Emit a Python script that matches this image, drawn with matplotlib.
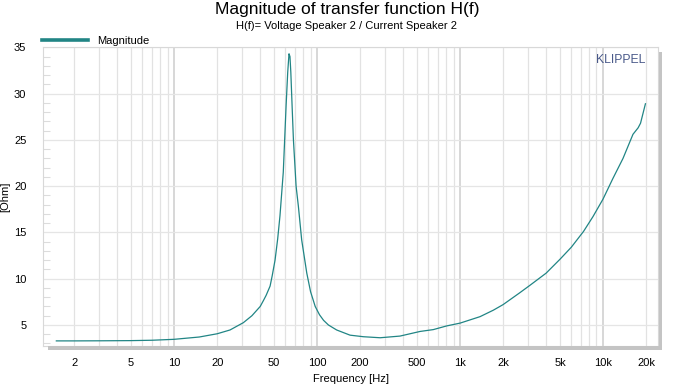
import matplotlib
matplotlib.use('Agg')
import matplotlib.pyplot as plt
from matplotlib.patches import Rectangle
from matplotlib.ticker import FixedLocator, NullFormatter, MultipleLocator
import numpy as np

plt.rcParams['font.family'] = ['Liberation Sans', 'DejaVu Sans']

# impedance curve
freq = [1.5, 2, 3, 5, 7, 10, 15, 20, 24.6, 30.5, 35, 40, 42, 44, 46.9, 48.5, 50.8, 53, 55, 58,
        60.7, 62.3, 63.6, 64.6, 65.5, 67, 68.3, 71.3, 74, 78, 84.7, 90, 97, 104, 111, 120, 137,
        170, 211, 276, 380, 525, 650, 807, 1000, 1380, 1710, 2000, 2600, 3060, 4000,
        5000, 6000, 7300, 8500, 10000, 11700, 13800, 16200, 17600, 18300, 19800]
ohm = [3.28, 3.28, 3.29, 3.31, 3.35, 3.45, 3.7, 4.05, 4.46, 5.25, 6.0, 7.0, 7.6, 8.2, 9.2, 10.3, 12.0, 14.3, 16.8, 21.5,
       28.7, 32.3, 34.3, 34.0, 32.3, 28.3, 25.0, 20.0, 17.8, 14.2, 10.6, 8.6, 7.0, 6.1, 5.5, 5.0, 4.46,
       3.9, 3.73, 3.62, 3.8, 4.3, 4.5, 4.9, 5.2, 5.9, 6.6, 7.2, 8.45, 9.25, 10.6,
       12.1, 13.4, 15.1, 16.7, 18.6, 20.8, 23.0, 25.6, 26.3, 26.8, 28.9]

xticks = [2, 5, 10, 20, 50, 100, 200, 500, 1000, 2000, 5000, 10000, 20000]
xticklabels = ['2', '5', '10', '20', '50', '100', '200', '500', '1k', '2k', '5k', '10k', '20k']
yticks = [5, 10, 15, 20, 25, 30, 35]

fig = plt.figure(figsize=(6.87, 3.84), dpi=100)
ax = fig.add_axes([0.0626, 0.099, 0.8954, 0.779])

ax.plot(freq, ohm, color='#218585', lw=0.9, label='Magnitude')
ax.set_xscale('log')
ax.set_xlim(1.21, 24300)
ax.set_ylim(2.73, 35.05)

# grid
minors = [m * 10 ** e for e in range(0, 5) for m in range(2, 10)]
for v in minors:
    if 1.21 < v < 24300:
        ax.axvline(v, color='#e2e2e2', lw=0.9, zorder=0)
for v in [10, 100, 1000, 10000]:
    ax.axvline(v, color='#d4d4d4', lw=1.3, zorder=0)
for v in yticks:
    ax.axhline(v, color='#e5e5e5', lw=0.9, zorder=0)

ax.xaxis.set_major_locator(FixedLocator(xticks))
ax.set_xticklabels(xticklabels)
ax.xaxis.set_minor_formatter(NullFormatter())
ax.xaxis.set_minor_locator(FixedLocator([]))
ax.set_yticks(yticks)
ax.yaxis.set_minor_locator(MultipleLocator(1))
ax.tick_params(axis='both', which='major', length=0, labelsize=8, pad=9)
ax.tick_params(axis='y', which='major', pad=12)
ax.tick_params(axis='y', which='minor', direction='in', length=5, color='#dcdcdc', width=0.8)

for s in ax.spines.values():
    s.set_color('#d8d8d8')
    s.set_linewidth(0.8)

ax.set_xlabel('Frequency [Hz]', fontsize=8, labelpad=4)
ax.set_ylabel('[Ohm]', fontsize=8, labelpad=3)

ax.text(0.979, 0.955, 'KLIPPEL', transform=ax.transAxes, ha='right', va='center',
        fontsize=8.8, color='#4a5a8a')

# shadow along the bottom and right of the frame
fig.add_artist(Rectangle((48 / 687, 1 - 350 / 384), 614 / 687, 4 / 384,
                         transform=fig.transFigure, color='#c4c4c4', lw=0))
fig.add_artist(Rectangle((658.5 / 687, 1 - 350 / 384), 3.5 / 687, 298 / 384,
                         transform=fig.transFigure, color='#c4c4c4', lw=0))

leg = ax.legend(loc='lower left', bbox_to_anchor=(-0.006, 0.995), frameon=False,
                fontsize=8, handlelength=4.2, handletextpad=0.8, borderaxespad=0.1,
                borderpad=0.1)
leg.get_lines()[0].set_linewidth(2.6)

fig.text(0.505, 0.975, 'Magnitude of transfer function H(f)', ha='center', va='center', fontsize=12.5)
fig.text(0.505, 0.933, 'H(f)= Voltage Speaker 2 / Current Speaker 2', ha='center', va='center', fontsize=8)

fig.savefig('out.png', dpi=100)
